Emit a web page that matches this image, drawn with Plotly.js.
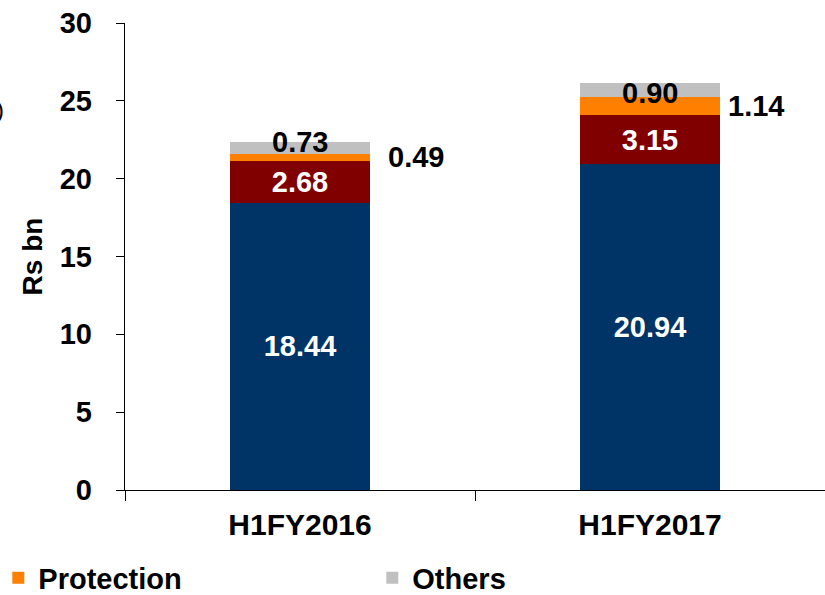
<!DOCTYPE html>
<html>
<head>
<meta charset="utf-8">
<script src="https://cdn.plot.ly/plotly-3.0.1.min.js"></script>
<style>
html,body{margin:0;padding:0;background:#fff;}
#chart{width:825px;height:595px;}
</style>
</head>
<body>
<div id="chart"></div>
<script>
// ---- data ----
var categories = ["H1FY2016", "H1FY2017"];
var seriesNames = ["Savings", "Pension", "Protection", "Others"];
var savings    = [18.44, 20.94];
var pension    = [2.68, 3.15];
var protection = [0.49, 1.14];
var others     = [0.73, 0.90];
var yTicks     = [0, 5, 10, 15, 20, 25, 30];

var FONT = "Liberation Sans, Arial, sans-serif";
var colors = ["#003366", "#800000", "#FF8000", "#C0C0C0"];

function fmt(v){ return v.toFixed(2); }

var traces = [
  {type:"bar", name:seriesNames[0], x:categories, y:savings, marker:{color:colors[0]},
   text:savings.map(fmt), textposition:"inside", insidetextanchor:"middle",
   textfont:{family:FONT, size:29, weight:"bold", color:"#ffffff"}, showlegend:false, width:0.4},
  {type:"bar", name:seriesNames[1], x:categories, y:pension, marker:{color:colors[1]},
   text:pension.map(fmt), textposition:"inside", insidetextanchor:"middle",
   textfont:{family:FONT, size:29, weight:"bold", color:"#ffffff"}, showlegend:false, width:0.4},
  {type:"bar", name:seriesNames[2], x:categories, y:protection, marker:{color:colors[2]},
   showlegend:true, width:0.4, hoverinfo:"y"},
  {type:"bar", name:seriesNames[3], x:categories, y:others, marker:{color:colors[3]},
   showlegend:true, width:0.4, hoverinfo:"y"}
];

var annotations = [];
var othersShift = [6, -3];
var protShift = [16, 6];
for (var i = 0; i < categories.length; i++) {
  var base = savings[i] + pension[i];
  var protMid = base + protection[i] / 2;
  var othMid = base + protection[i] + others[i] / 2;
  annotations.push({x:categories[i], y:othMid, xref:"x", yref:"y", text:fmt(others[i]),
    showarrow:false, yshift:othersShift[i], font:{family:FONT, size:29, weight:"bold", color:"#000"}});
  annotations.push({x:categories[i], y:protMid, xref:"x", yref:"y", text:fmt(protection[i]),
    showarrow:false, xanchor:"left", xshift:70 + protShift[i], font:{family:FONT, size:29, weight:"bold", color:"#000"}});
}
annotations.push({x:-0.17, y:0.815, xref:"paper", yref:"paper", text:")", showarrow:false,
  xanchor:"right", yanchor:"middle", font:{family:FONT, size:24, color:"#000"}});

var layout = {
  width:825, height:595,
  margin:{l:125, r:0, t:23, b:105, autoexpand:false},
  paper_bgcolor:"#fff", plot_bgcolor:"#fff",
  barmode:"stack",
  font:{family:FONT, color:"#000"},
  xaxis:{type:"category", tickson:"boundaries", ticks:"outside", ticklen:10, tickcolor:"#000",
    showline:true, linecolor:"#000", linewidth:1.3, showgrid:false, zeroline:false,
    tickfont:{family:FONT, size:30, weight:"bold", color:"#000"}, ticklabelstandoff:8,
    automargin:false},
  yaxis:{range:[0,30], tickvals:yTicks, ticktext:yTicks.map(String), ticks:"outside", ticklen:8,
    tickcolor:"#000", showline:true, linecolor:"#000", linewidth:1.3, showgrid:false, zeroline:false,
    tickfont:{family:FONT, size:29, weight:"bold", color:"#000"}, ticklabelstandoff:18,
    title:{text:"Rs bn", font:{family:FONT, size:28, weight:"bold", color:"#000"}, standoff:8},
    automargin:false},
  legend:{orientation:"h", x:-0.181, xanchor:"left", y:-0.188, yanchor:"middle",
    traceorder:"normal", entrywidth:329, font:{family:FONT, size:29, weight:"bold", color:"#000"},
    bgcolor:"rgba(0,0,0,0)"},
  annotations:annotations,
  showlegend:true
};

Plotly.newPlot("chart", traces, layout, {displayModeBar:false, staticPlot:true});
</script>
</body>
</html>
